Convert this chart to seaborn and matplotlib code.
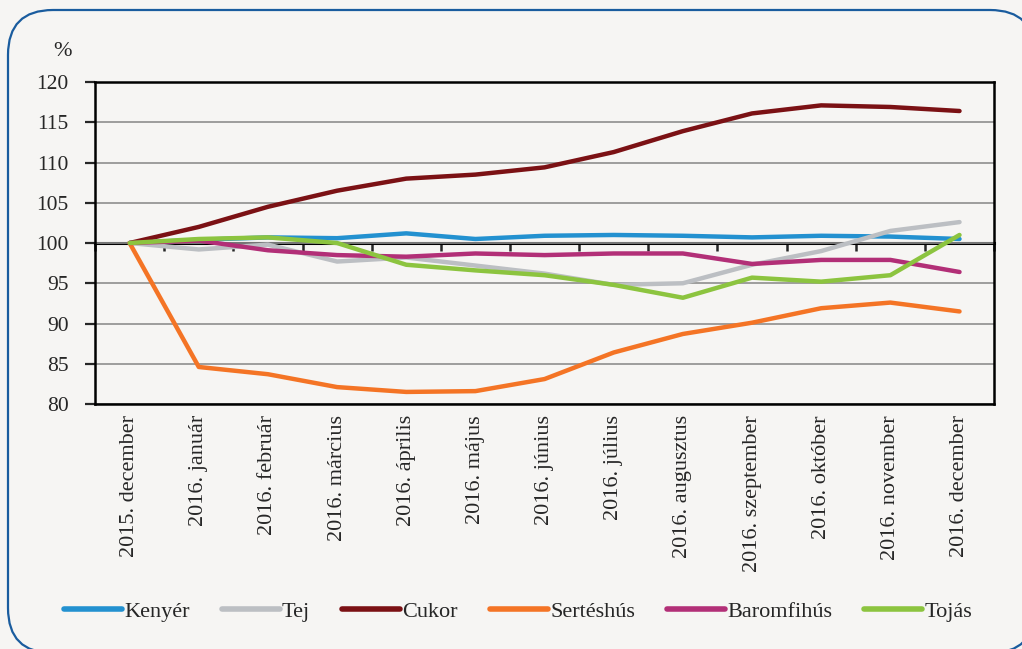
import numpy as np
import pandas as pd
import matplotlib
matplotlib.use('Agg')
import matplotlib.pyplot as plt
import seaborn as sns
from matplotlib.patches import FancyBboxPatch

months = ['2015. december', '2016. január', '2016. február', '2016. március',
          '2016. április', '2016. május', '2016. június', '2016. július',
          '2016. augusztus', '2016. szeptember', '2016. október',
          '2016. november', '2016. december']

kenyer = [100, 100.4, 100.7, 100.6, 101.2, 100.5, 100.9, 101.0, 100.9, 100.7, 100.9, 100.8, 100.5]
tej = [100, 99.2, 99.8, 97.7, 98.2, 97.2, 96.2, 94.8, 95.0, 97.3, 99.0, 101.5, 102.6]
cukor = [100, 102.0, 104.5, 106.5, 108.0, 108.5, 109.4, 111.3, 113.9, 116.1, 117.1, 116.9, 116.4]
serteshus = [100, 84.6, 83.7, 82.1, 81.5, 81.6, 83.1, 86.4, 88.7, 90.1, 91.9, 92.6, 91.5]
baromfihus = [100, 100.3, 99.1, 98.5, 98.3, 98.7, 98.5, 98.7, 98.7, 97.4, 97.9, 97.9, 96.4]
tojas = [100, 100.5, 100.7, 100.0, 97.3, 96.6, 96.0, 94.8, 93.2, 95.7, 95.2, 96.0, 101.0]

products = ['Kenyér', 'Tej', 'Cukor', 'Sertéshús', 'Baromfihús', 'Tojás']
values = [kenyer, tej, cukor, serteshus, baromfihus, tojas]
colors = ['#2391d0', '#bcbfc3', '#7b1114', '#f47425', '#b22f77', '#8cc43f']

rows = []
for name, vals in zip(products, values):
    for i, v in enumerate(vals):
        rows.append({'pos': i, 'honap': months[i], 'termek': name, 'ertek': v})
df = pd.DataFrame(rows)

bg = '#f6f5f3'
sns.set_style('white')
plt.rcParams['font.family'] = ['Liberation Serif', 'DejaVu Serif']

fig = plt.figure(figsize=(10.22, 6.49), dpi=100, facecolor=bg)

# rounded frame around everything, in pixel units
bgax = fig.add_axes([0, 0, 1, 1], zorder=-1)
bgax.set_xlim(0, 1022)
bgax.set_ylim(649, 0)
bgax.axis('off')
bgax.add_patch(FancyBboxPatch((8, 10), 1027, 643, boxstyle='round,pad=0,rounding_size=45',
                              facecolor=bg, edgecolor='#1a5c9e', lw=1.6))

ax = fig.add_axes([0.093, 0.3775, 0.8797, 0.4961])
ax.set_facecolor(bg)

sns.lineplot(data=df, x='pos', y='ertek', hue='termek', palette=colors, lw=3.2,
             ax=ax, solid_capstyle='round')

ax.set_xlim(-0.5, 12.5)
ax.set_ylim(80, 120)
ax.set_yticks(range(80, 121, 5))
ax.set_xticks(range(len(months)))
ax.set_xticklabels(months, rotation=90, fontsize=16)
ax.tick_params(axis='x', length=0, pad=8)
ax.tick_params(axis='y', left=True, direction='out', length=7, width=1.6, pad=12, labelsize=15.5)
ax.set_xlabel('')
ax.set_ylabel('')
ax.yaxis.grid(True, color='#8e8e8e', lw=1.2)
ax.set_axisbelow(True)
for s in ax.spines.values():
    s.set_color('black')
    s.set_linewidth(1.8)

# the 100 line with category boundary ticks
sec = ax.secondary_xaxis(0.5)
sec.set_xticks(np.arange(-0.5, 13, 1))
sec.tick_params(axis='x', direction='in', length=6, width=1.8, labeltop=False, labelbottom=False)
for s in sec.spines.values():
    s.set_linewidth(2.2)
    s.set_color('black')

fig.text(63 / 1022, 1 - 52 / 649, '%', ha='center', va='center', fontsize=16)

sns.move_legend(ax, 'center', bbox_to_anchor=(0.507, 0.058), bbox_transform=fig.transFigure,
                ncol=6, frameon=False, title=None, fontsize=16, handlelength=2.6,
                handletextpad=0.1, columnspacing=1.45)
for line in ax.get_legend().get_lines():
    line.set_linewidth(4)
    line.set_solid_capstyle('round')

fig.savefig('out.png', dpi=100, facecolor=bg)
